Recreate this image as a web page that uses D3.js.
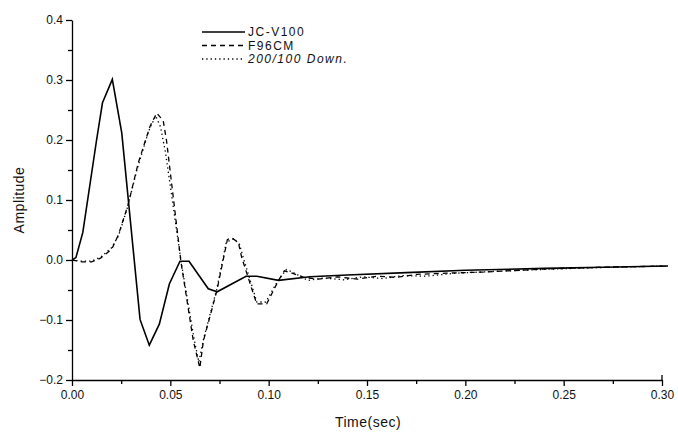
<!DOCTYPE html>
<head>
<meta charset="utf-8">
<style>
  body { margin: 0; background: #fff; font-family: 'Liberation Sans', Arial, sans-serif; }
  .line { fill: none; stroke: #000; }
  .axis path, .axis line { stroke: #000; stroke-width: 1.3px; }
  .axis text { font-size: 12px; fill: #111; font-family: 'Liberation Sans', Arial, sans-serif; }
  .lbl { font-size: 14px; fill: #111; letter-spacing: 0.5px; }
  .leg { font-size: 12px; fill: #111; letter-spacing: 1.5px; }
</style>
</head>
<body>
<svg id="chart" width="678" height="432"></svg>
<script src="https://cdn.jsdelivr.net/npm/d3@7"></script>
<script>
  // JC-V100 (solid)
  var jcT = [0, 0.002, 0.0055, 0.0125, 0.0155, 0.0205, 0.0253, 0.0346, 0.0393, 0.0444, 0.0495, 0.0549, 0.0595,
             0.0693, 0.0738, 0.0885, 0.094, 0.105, 0.121, 0.14, 0.17, 0.20, 0.24, 0.27, 0.303];
  var jcV = [0, 0.004, 0.046, 0.20, 0.262, 0.301, 0.212, -0.099, -0.142, -0.107, -0.04, -0.002, -0.002,
             -0.048, -0.053, -0.027, -0.027, -0.034, -0.028, -0.025, -0.021, -0.017, -0.014, -0.012, -0.01];

  // F96CM (dashed)
  var fT = [0, 0.005, 0.010, 0.0145, 0.0202, 0.0236, 0.0286, 0.0337, 0.0397, 0.0431, 0.0464, 0.0481, 0.0554,
            0.0617, 0.065, 0.0668, 0.0736, 0.079, 0.0812, 0.0846, 0.0863, 0.0939, 0.099, 0.105, 0.108, 0.111,
            0.118, 0.125, 0.135, 0.145, 0.155, 0.165, 0.175, 0.19, 0.21, 0.24, 0.27, 0.303];
  var fV = [0, -0.003, -0.003, 0.003, 0.018, 0.042, 0.093, 0.162, 0.223, 0.245, 0.232, 0.198, -0.003,
            -0.135, -0.18, -0.135, -0.052, 0.034, 0.037, 0.029, 0.004, -0.073, -0.073, -0.034, -0.018, -0.021,
            -0.029, -0.032, -0.028, -0.032, -0.027, -0.029, -0.024, -0.022, -0.02, -0.015, -0.012, -0.01];

  // 200/100 Down. (dotted)
  var dT = [0, 0.005, 0.010, 0.015, 0.020, 0.0236, 0.028, 0.033, 0.039, 0.0425, 0.045, 0.0475, 0.0555,
            0.062, 0.0645, 0.067, 0.0735, 0.0785, 0.082, 0.085, 0.087, 0.094, 0.0985, 0.105, 0.109, 0.112,
            0.12, 0.128, 0.138, 0.148, 0.158, 0.168, 0.18, 0.195, 0.215, 0.245, 0.275, 0.303];
  var dV = [0, -0.002, -0.002, 0.006, 0.02, 0.04, 0.085, 0.15, 0.215, 0.24, 0.222, 0.18, -0.003,
            -0.13, -0.17, -0.13, -0.05, 0.03, 0.035, 0.028, 0.005, -0.07, -0.07, -0.033, -0.016, -0.02,
            -0.034, -0.03, -0.033, -0.028, -0.031, -0.026, -0.027, -0.022, -0.019, -0.015, -0.012, -0.01];

  var seriesNames = ["JC-V100", "F96CM", "200/100 Down."];
  var xTicks = [0, 0.05, 0.10, 0.15, 0.20, 0.25, 0.30];
  var yTicks = [-0.2, -0.1, 0.0, 0.1, 0.2, 0.3, 0.4];

  var svg = d3.select("#chart");
  var x = d3.scaleLinear().domain([0, 0.30]).range([72, 662]);
  var y = d3.scaleLinear().domain([-0.2, 0.4]).range([380, 20]);

  // minor ticks
  svg.append("g")
      .attr("class", "axis")
      .attr("transform", "translate(0,380)")
      .call(d3.axisBottom(x).tickValues(d3.range(0.025, 0.30, 0.05)).tickSize(4).tickFormat(""))
      .select(".domain").remove();
  svg.append("g")
      .attr("class", "axis")
      .attr("transform", "translate(72,0)")
      .call(d3.axisLeft(y).tickValues(d3.range(-0.15, 0.4, 0.1)).tickSize(4).tickFormat(""))
      .select(".domain").remove();

  svg.append("g")
      .attr("class", "axis")
      .attr("transform", "translate(0,380)")
      .call(d3.axisBottom(x).tickValues(xTicks).tickSize(6).tickSizeOuter(0).tickPadding(4).tickFormat(d3.format(".2f")));
  svg.append("g")
      .attr("class", "axis")
      .attr("transform", "translate(72,0)")
      .call(d3.axisLeft(y).tickValues(yTicks).tickSize(6).tickSizeOuter(0).tickPadding(3).tickFormat(d3.format(".1f")));
  // small end cap at right of x axis
  svg.append("line").attr("x1", x(0.30)).attr("x2", x(0.30)).attr("y1", 380).attr("y2", 375)
      .attr("stroke", "#000").attr("stroke-width", 1.3);

  svg.append("text").attr("class", "lbl")
      .attr("transform", "translate(24,200) rotate(-90)")
      .attr("text-anchor", "middle")
      .text("Amplitude");
  svg.append("text").attr("class", "lbl")
      .attr("x", 368).attr("y", 427)
      .attr("text-anchor", "middle")
      .text("Time(sec)");

  var line = d3.line()
      .x(function(d) { return x(d[0]); })
      .y(function(d) { return y(d[1]); });

  var styles = [
    { w: 1.6, dash: null },
    { w: 1.3, dash: "5,4" },
    { w: 1.3, dash: "1.3,3" }
  ];
  var data = [d3.zip(jcT, jcV), d3.zip(fT, fV), d3.zip(dT, dV)];

  data.forEach(function(d, i) {
    svg.append("path")
        .datum(d)
        .attr("class", "line")
        .attr("stroke-width", styles[i].w)
        .attr("stroke-dasharray", styles[i].dash)
        .attr("d", line);
  });

  // legend
  var lg = svg.append("g").attr("transform", "translate(202,32)");
  seriesNames.forEach(function(name, i) {
    var row = lg.append("g").attr("transform", "translate(0," + (i * 13.5) + ")");
    row.append("line")
        .attr("x1", 0).attr("x2", 43).attr("y1", 0).attr("y2", 0)
        .attr("stroke", "#000")
        .attr("stroke-width", styles[i].w)
        .attr("stroke-dasharray", styles[i].dash);
    row.append("text")
        .attr("class", "leg")
        .attr("x", 46).attr("y", 4.3)
        .style("font-style", i === 2 ? "italic" : "normal")
        .text(name);
  });
</script>
</body>
